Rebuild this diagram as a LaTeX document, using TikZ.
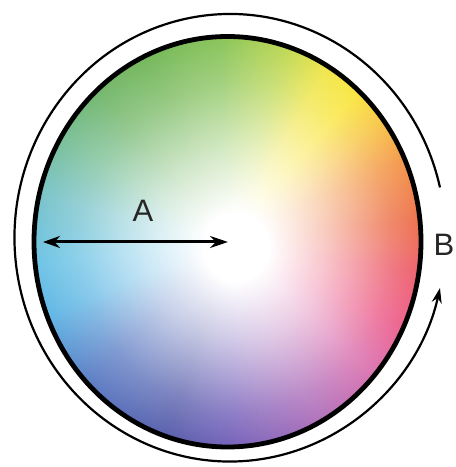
\documentclass[tikz,border=0pt]{standalone}
\usepackage{fontspec}
\setmainfont{Liberation Sans}
\usetikzlibrary{arrows.meta,fadings}
\pgfdeclareradialshading{wfshade}{\pgfpoint{0bp}{0bp}}{color(0bp)=(white); color(4bp)=(white); color(11bp)=(white!72!black); color(19bp)=(white!36!black); color(26bp)=(white!12!black); color(33bp)=(black); color(50bp)=(black)}
\pgfdeclarefading{wheelfade}{\pgfuseshading{wfshade}}
\definecolor{k00}{HTML}{E84028}
\definecolor{k01}{HTML}{E84818}
\definecolor{k02}{HTML}{F07818}
\definecolor{k03}{HTML}{F6B818}
\definecolor{k04}{HTML}{F8E010}
\definecolor{k04b}{HTML}{EEE020}
\definecolor{k05}{HTML}{B0D030}
\definecolor{k06}{HTML}{70B838}
\definecolor{k07}{HTML}{5AAA3C}
\definecolor{k08}{HTML}{5AAA50}
\definecolor{k09}{HTML}{60B488}
\definecolor{k10}{HTML}{60B8C0}
\definecolor{k11}{HTML}{50B8E0}
\definecolor{k12}{HTML}{40A8E0}
\definecolor{k13}{HTML}{3860B8}
\definecolor{k14}{HTML}{303898}
\definecolor{k15}{HTML}{5038A8}
\definecolor{k16}{HTML}{9848A8}
\definecolor{k17}{HTML}{D04898}
\definecolor{k18}{HTML}{E83068}
\definecolor{k19}{HTML}{E83040}
\tikzset{
  wheelborder/.style={line width=4.8pt, draw=black},
  ringline/.style={line width=2.2pt, draw=black, -{Stealth[length=15pt,width=10pt]}},
  radiusarrow/.style={line width=3pt, draw=black, {Stealth[length=17pt,width=12pt]}-{Stealth[length=18pt,width=12pt]}},
  lbl/.style={font=\fontsize{31}{31}\selectfont, inner sep=0pt, text=black!85}
}
\begin{document}
\begin{tikzpicture}[x=1pt,y=1pt]
\useasboundingbox (0,0) rectangle (456,467);
\fill[white] (0,0) rectangle (456,467);
\coordinate (C) at (227.5,225.25);
\coordinate (Oc) at (230,229.25);
\coordinate (W) at (236,220);
\begin{scope}
  \clip (C) ellipse [x radius=193.5, y radius=205.25];
  \foreach \a/\ca/\b/\cb in {0/k00/7/k01, 7/k01/24/k02, 24/k02/38/k03, 38/k03/49/k04, 49/k04/60/k04b, 60/k04b/73/k05, 73/k05/92/k06, 92/k06/114/k07, 114/k07/130/k08, 130/k08/149/k09, 149/k09/166/k10, 166/k10/186/k11, 186/k11/202/k12, 202/k12/225/k13, 225/k13/253/k14, 253/k14/271/k15, 271/k15/297/k16, 297/k16/318/k17, 318/k17/335/k18, 335/k18/351/k19, 351/k19/360/k00}{
    \pgfmathtruncatemacro{\n}{\b-\a}
    \foreach \t in {1,...,\n}{
      \pgfmathtruncatemacro{\p}{100*(\t-0.5)/\n}
      \pgfmathsetmacro{\s}{\a+\t-1}
      \pgfmathsetmacro{\e}{\a+\t+0.6}
      \fill[color=\cb!\p!\ca, shift={(C)}] (0,0) -- (\s:320) -- (\e:320) -- cycle;
    }
  }
  \fill[white, path fading=wheelfade] (W) ellipse [x radius=205, y radius=215];
\end{scope}
\draw[wheelborder] (C) ellipse [x radius=193.5, y radius=205.25];
\draw[ringline] (Oc) ++(13:215.5 and 223.75) arc[start angle=13, end angle=347, x radius=215.5, y radius=223.75];
\coordinate (aL) at (43,225);
\coordinate (aR) at (228,225);
\draw[radiusarrow] (aL) -- (aR);
\node[lbl] (lblA) at (143,256) {A};
\node[lbl] (lblB) at (444,222) {B};
\end{tikzpicture}
\end{document}
